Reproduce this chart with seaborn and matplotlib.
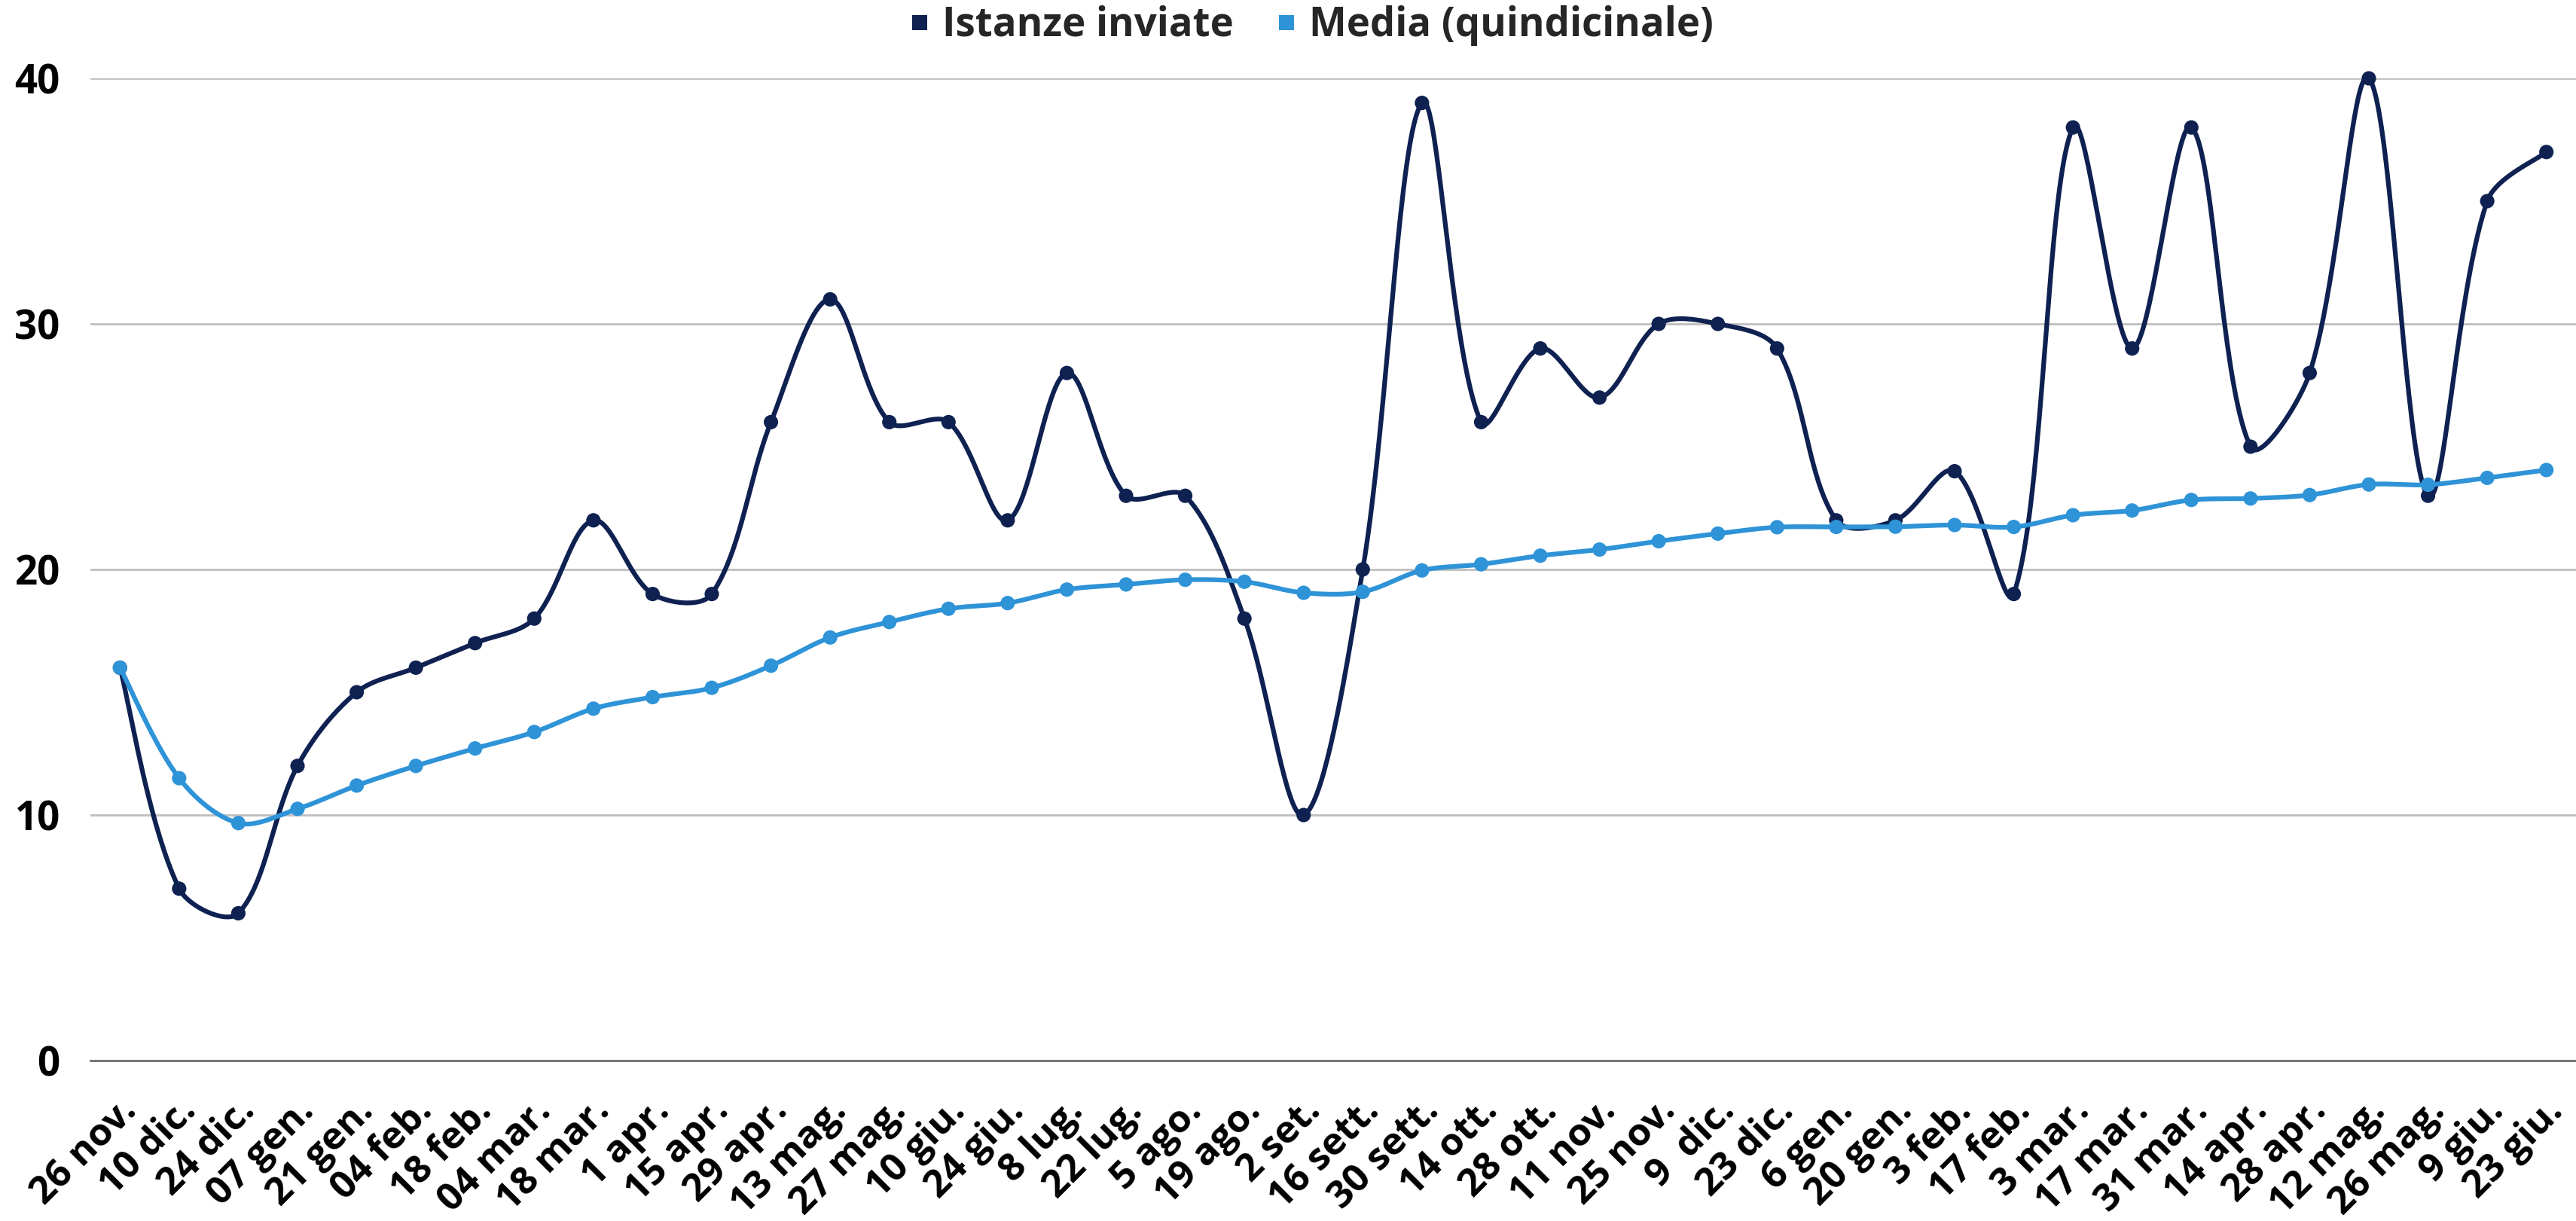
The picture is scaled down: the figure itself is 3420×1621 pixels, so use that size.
import numpy as np
import pandas as pd
import seaborn as sns
import matplotlib
matplotlib.use("Agg")
import matplotlib.pyplot as plt
import matplotlib.transforms as mtransforms
from matplotlib.lines import Line2D

categories = [
    "26 nov.", "10 dic.", "24 dic.", "07 gen.", "21 gen.", "04 feb.", "18 feb.",
    "04 mar.", "18 mar.", "1 apr.", "15 apr.", "29 apr.", "13 mag.", "27 mag.",
    "10 giu.", "24 giu.", "8 lug.", "22 lug.", "5 ago.", "19 ago.", "2 set.",
    "16 sett.", "30 sett.", "14 ott.", "28 ott.", "11 nov.", "25 nov.", "9  dic.",
    "23 dic.", "6 gen.", "20 gen.", "3 feb.", "17 feb.", "3 mar.", "17 mar.",
    "31 mar.", "14 apr.", "28 apr.", "12 mag.", "26 mag.", "9 giu.", "23 giu.",
]
istanze = [16, 7, 6, 12, 15, 16, 17, 18, 22, 19, 19, 26, 31, 26, 26, 22, 28, 23,
           23, 18, 10, 20, 39, 26, 29, 27, 30, 30, 29, 22, 22, 24, 19, 38, 29, 38,
           25, 28, 40, 23, 35, 37]
media = [16.0, 11.5, 9.67, 10.25, 11.2, 12.0, 12.71, 13.38, 14.33, 14.8, 15.18,
         16.08, 17.23, 17.86, 18.4, 18.63, 19.18, 19.39, 19.58, 19.5, 19.05, 19.09,
         19.96, 20.21, 20.56, 20.81, 21.15, 21.46, 21.72, 21.73, 21.74, 21.81,
         21.73, 22.21, 22.4, 22.83, 22.89, 23.03, 23.46, 23.45, 23.73, 24.05]
y_ticks = [0, 10, 20, 30, 40]
series_names = ["Istanze inviate", "Media (quindicinale)"]
series_colors = ["#0E2151", "#2E93D7"]


def smooth(ax, xv, yv, n=40):
    """Excel-like smoothed line: cubic Bezier segments whose tangents follow the
    neighbouring points, split in proportion to the adjacent segment lengths
    (computed in display space)."""
    data = np.column_stack([np.asarray(xv, float), np.asarray(yv, float)])
    pts = ax.transData.transform(data)
    m = len(pts)
    tang = np.zeros_like(pts)
    for i in range(m):
        a = pts[max(i - 1, 0)]
        b = pts[min(i + 1, m - 1)]
        tang[i] = b - a
    seglen = np.linalg.norm(np.diff(pts, axis=0), axis=1)
    t = np.linspace(0, 1, n)[:, None]
    out = []
    for i in range(m - 1):
        p1, p2 = pts[i], pts[i + 1]
        lp = seglen[i - 1] if i > 0 else seglen[i]
        ln = seglen[i + 1] if i + 1 < m - 1 else seglen[i]
        L = seglen[i]
        c1 = p1 + tang[i] / 3.0 * (L / (L + lp)) if i > 0 else p1 + tang[i] / 6.0 * 0.0 + (p2 - p1) / 3.0 * 0.0 + tang[i] / 3.0 * 0.5
        c2 = p2 - tang[i + 1] / 3.0 * (L / (L + ln)) if i + 1 < m - 1 else p2 - tang[i + 1] / 3.0 * 0.5
        seg = ((1 - t) ** 3) * p1 + 3 * ((1 - t) ** 2) * t * c1 + 3 * (1 - t) * t ** 2 * c2 + t ** 3 * p2
        out.append(seg if i == 0 else seg[1:])
    out = np.vstack(out)
    back = ax.transData.inverted().transform(out)
    return back[:, 0], back[:, 1]


sns.set_theme(style="white")
plt.rcParams["font.family"] = ["Open Sans", "DejaVu Sans"]
plt.rcParams["font.weight"] = "bold"

W, H = 3420, 1621
fig = plt.figure(figsize=(W / 100, H / 100), dpi=100)
fig.patch.set_facecolor("white")
ax = fig.add_axes([120 / W, (H - 1408) / H, 3300 / W, (1408 - 104) / H])

pos = np.arange(len(categories))
df = pd.DataFrame({"pos": pos, series_names[0]: istanze, series_names[1]: media})

ax.set_xlim(-0.5, len(categories) - 0.5)
ax.set_ylim(0, 40)

for k, (name, color) in enumerate(zip(series_names, series_colors)):
    sx, sy = smooth(ax, df["pos"], df[name])
    ax.plot(sx, sy, color=color, lw=4.5, zorder=3 + 2 * k, clip_on=False,
            solid_capstyle="round", solid_joinstyle="round")
    sns.scatterplot(data=df, x="pos", y=name, ax=ax, color=color, s=190,
                    edgecolor="none", linewidth=0, zorder=4 + 2 * k,
                    clip_on=False, legend=False)

ax.set_xlim(-0.5, len(categories) - 0.5)
ax.set_ylim(0, 40)
ax.set_yticks(y_ticks)
ax.set_yticklabels([str(v) for v in y_ticks], fontsize=38, fontweight="bold")
ax.set_xticks(pos)
ax.set_xticklabels(categories, fontsize=36.5, fontweight="bold", rotation=45,
                   ha="right", va="center", rotation_mode="anchor")
ax.tick_params(axis="y", length=0, pad=29, labelcolor="black")
ax.tick_params(axis="x", length=0, pad=43, labelcolor="black")
offset = mtransforms.ScaledTranslation(0.15, 0, fig.dpi_scale_trans)
for lab in ax.get_xticklabels():
    lab.set_transform(lab.get_transform() + offset)

ax.set_xlabel("")
ax.set_ylabel("")
ax.grid(False)
for v in y_ticks[1:]:
    ax.axhline(v, color="#BFBFBF", lw=2.0, zorder=1)
for s in ["top", "right", "left"]:
    ax.spines[s].set_visible(False)
ax.spines["bottom"].set_color("#6E6E6E")
ax.spines["bottom"].set_linewidth(2.0)
ax.set_facecolor("white")

handles = [Line2D([], [], marker="s", linestyle="none", markersize=14,
                  color=c, markeredgewidth=0) for c in series_colors]
fig.legend(handles, series_names, loc="center",
           bbox_to_anchor=(1742 / W, 1 - 34 / H), ncol=2, frameon=False,
           prop={"size": 38, "weight": "bold"}, handlelength=0.45,
           handletextpad=0.35, columnspacing=1.1, borderpad=0)

fig.savefig("out.png", dpi=100, facecolor="white")
